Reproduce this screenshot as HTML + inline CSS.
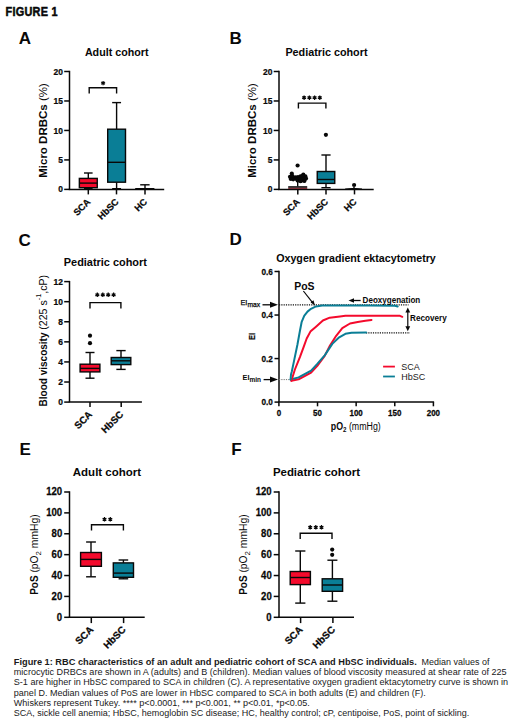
<!DOCTYPE html>
<html><head><meta charset="utf-8"><style>
html,body{margin:0;padding:0;background:#fff;}
svg{display:block;font-family:"Liberation Sans",sans-serif;}
.t{stroke:#080808;stroke-width:0.25px;}
</style></head><body>
<svg width="520" height="724" viewBox="0 0 520 724">
<rect width="520" height="724" fill="#fff"/>
<g class="g">
<text x="0" y="0" font-size="12.3" font-weight="bold" fill="#080808" stroke="#080808" stroke-width="0.5" letter-spacing="0.3" transform="translate(5.5 15.8) scale(0.885 1)">FIGURE 1</text>
<text x="18.8" y="44.0" font-size="17.0" font-weight="bold" text-anchor="start" fill="#080808" >A</text>
<text x="229.4" y="44.2" font-size="17.0" font-weight="bold" text-anchor="start" fill="#080808" >B</text>
<text x="18.6" y="246.2" font-size="17.0" font-weight="bold" text-anchor="start" fill="#080808" >C</text>
<text x="229.4" y="245.3" font-size="17.0" font-weight="bold" text-anchor="start" fill="#080808" >D</text>
<text x="19.6" y="455.0" font-size="17.0" font-weight="bold" text-anchor="start" fill="#080808" >E</text>
<text x="231.2" y="455.0" font-size="17.0" font-weight="bold" text-anchor="start" fill="#080808" >F</text>
<line x1="69.5" y1="70.8" x2="69.5" y2="189.4" stroke="#080808" stroke-width="1.5" />
<line x1="64.2" y1="71.5" x2="69.5" y2="71.5" stroke="#080808" stroke-width="1.5" />
<text class="t" x="0" y="0" font-size="9.6" font-weight="bold" text-anchor="end" fill="#080808" transform="translate(63.00 74.57) scale(0.88 1)">20</text>
<line x1="64.2" y1="100.975" x2="69.5" y2="100.975" stroke="#080808" stroke-width="1.5" />
<text class="t" x="0" y="0" font-size="9.6" font-weight="bold" text-anchor="end" fill="#080808" transform="translate(63.00 104.05) scale(0.88 1)">15</text>
<line x1="64.2" y1="130.45" x2="69.5" y2="130.45" stroke="#080808" stroke-width="1.5" />
<text class="t" x="0" y="0" font-size="9.6" font-weight="bold" text-anchor="end" fill="#080808" transform="translate(63.00 133.52) scale(0.88 1)">10</text>
<line x1="64.2" y1="159.925" x2="69.5" y2="159.925" stroke="#080808" stroke-width="1.5" />
<text class="t" x="0" y="0" font-size="9.6" font-weight="bold" text-anchor="end" fill="#080808" transform="translate(63.00 163.00) scale(0.88 1)">5</text>
<line x1="64.2" y1="189.4" x2="69.5" y2="189.4" stroke="#080808" stroke-width="1.5" />
<text class="t" x="0" y="0" font-size="9.6" font-weight="bold" text-anchor="end" fill="#080808" transform="translate(63.00 192.47) scale(0.88 1)">0</text>
<line x1="68.8" y1="189.4" x2="164.2" y2="189.4" stroke="#080808" stroke-width="1.5" />
<line x1="88.3" y1="189.4" x2="88.3" y2="194.4" stroke="#080808" stroke-width="1.5" />
<text class="t" x="91.1" y="202.4" font-size="9.3" font-weight="bold" text-anchor="end" fill="#080808" transform="rotate(-45 91.1 202.4)">SCA</text>
<line x1="116.5" y1="189.4" x2="116.5" y2="194.4" stroke="#080808" stroke-width="1.5" />
<text class="t" x="119.3" y="202.4" font-size="9.3" font-weight="bold" text-anchor="end" fill="#080808" transform="rotate(-45 119.3 202.4)">HbSC</text>
<line x1="145.0" y1="189.4" x2="145.0" y2="194.4" stroke="#080808" stroke-width="1.5" />
<text class="t" x="147.8" y="202.4" font-size="9.3" font-weight="bold" text-anchor="end" fill="#080808" transform="rotate(-45 147.8 202.4)">HC</text>
<text x="84.9" y="56.3" font-size="10.7" font-weight="bold" text-anchor="start" fill="#080808" textLength="63.6" lengthAdjust="spacingAndGlyphs" >Adult cohort</text>
<text x="46.6" y="130.5" font-size="11.5" font-weight="bold" text-anchor="middle" fill="#080808" transform="rotate(-90 46.6 130.5)" textLength="94.6" lengthAdjust="spacingAndGlyphs">Micro DRBCs <tspan font-weight="normal">(%)</tspan></text>
<line x1="88.3" y1="173.0" x2="88.3" y2="178.4" stroke="#080808" stroke-width="1.4" />
<line x1="88.3" y1="187.7" x2="88.3" y2="188.6" stroke="#080808" stroke-width="1.4" />
<line x1="84.0" y1="173.0" x2="92.6" y2="173.0" stroke="#080808" stroke-width="1.4" />
<line x1="84.0" y1="188.6" x2="92.6" y2="188.6" stroke="#080808" stroke-width="1.4" />
<rect x="79.35" y="178.4" width="17.9" height="9.299999999999983" fill="#f40a2c" stroke="#080808" stroke-width="1.4"/>
<line x1="79.35" y1="183.1" x2="97.25" y2="183.1" stroke="#080808" stroke-width="1.4" />
<line x1="116.6" y1="102.6" x2="116.6" y2="129.2" stroke="#080808" stroke-width="1.4" />
<line x1="116.6" y1="182.2" x2="116.6" y2="188.7" stroke="#080808" stroke-width="1.4" />
<line x1="112.14999999999999" y1="102.6" x2="121.05" y2="102.6" stroke="#080808" stroke-width="1.4" />
<line x1="112.14999999999999" y1="188.7" x2="121.05" y2="188.7" stroke="#080808" stroke-width="1.4" />
<rect x="107.69999999999999" y="129.2" width="17.8" height="53.0" fill="#0a7e96" stroke="#080808" stroke-width="1.4"/>
<line x1="107.69999999999999" y1="162.3" x2="125.5" y2="162.3" stroke="#080808" stroke-width="1.4" />
<line x1="145.0" y1="184.8" x2="145.0" y2="189.0" stroke="#080808" stroke-width="1.4" />
<line x1="140.2" y1="184.8" x2="149.6" y2="184.8" stroke="#080808" stroke-width="1.4" />
<rect x="135.2" y="188.0" width="19.2" height="1.4" fill="#080808"/>
<polyline points="89.2,93.5 89.2,87.7 116.6,87.7 116.6,93.5" fill="none" stroke="#080808" stroke-width="1.4"/>
<path d="M103.10,80.90L103.10,85.30M101.19,82.00L105.01,84.20M105.01,82.00L101.19,84.20" stroke="#080808" stroke-width="1.25" fill="none"/>
<circle cx="103.1" cy="83.1" r="1.0" fill="#080808"/>
<line x1="279.0" y1="70.8" x2="279.0" y2="189.4" stroke="#080808" stroke-width="1.5" />
<line x1="273.7" y1="71.5" x2="279.0" y2="71.5" stroke="#080808" stroke-width="1.5" />
<text class="t" x="0" y="0" font-size="9.6" font-weight="bold" text-anchor="end" fill="#080808" transform="translate(272.50 74.57) scale(0.88 1)">20</text>
<line x1="273.7" y1="100.975" x2="279.0" y2="100.975" stroke="#080808" stroke-width="1.5" />
<text class="t" x="0" y="0" font-size="9.6" font-weight="bold" text-anchor="end" fill="#080808" transform="translate(272.50 104.05) scale(0.88 1)">15</text>
<line x1="273.7" y1="130.45" x2="279.0" y2="130.45" stroke="#080808" stroke-width="1.5" />
<text class="t" x="0" y="0" font-size="9.6" font-weight="bold" text-anchor="end" fill="#080808" transform="translate(272.50 133.52) scale(0.88 1)">10</text>
<line x1="273.7" y1="159.925" x2="279.0" y2="159.925" stroke="#080808" stroke-width="1.5" />
<text class="t" x="0" y="0" font-size="9.6" font-weight="bold" text-anchor="end" fill="#080808" transform="translate(272.50 163.00) scale(0.88 1)">5</text>
<line x1="273.7" y1="189.4" x2="279.0" y2="189.4" stroke="#080808" stroke-width="1.5" />
<text class="t" x="0" y="0" font-size="9.6" font-weight="bold" text-anchor="end" fill="#080808" transform="translate(272.50 192.47) scale(0.88 1)">0</text>
<line x1="278.3" y1="189.4" x2="373.7" y2="189.4" stroke="#080808" stroke-width="1.5" />
<line x1="297.8" y1="189.4" x2="297.8" y2="194.4" stroke="#080808" stroke-width="1.5" />
<text class="t" x="300.6" y="202.4" font-size="9.3" font-weight="bold" text-anchor="end" fill="#080808" transform="rotate(-45 300.6 202.4)">SCA</text>
<line x1="326.0" y1="189.4" x2="326.0" y2="194.4" stroke="#080808" stroke-width="1.5" />
<text class="t" x="328.8" y="202.4" font-size="9.3" font-weight="bold" text-anchor="end" fill="#080808" transform="rotate(-45 328.8 202.4)">HbSC</text>
<line x1="354.5" y1="189.4" x2="354.5" y2="194.4" stroke="#080808" stroke-width="1.5" />
<text class="t" x="357.3" y="202.4" font-size="9.3" font-weight="bold" text-anchor="end" fill="#080808" transform="rotate(-45 357.3 202.4)">HC</text>
<text x="285.4" y="56.3" font-size="10.7" font-weight="bold" text-anchor="start" fill="#080808" textLength="82.1" lengthAdjust="spacingAndGlyphs" >Pediatric cohort</text>
<text x="256.1" y="130.5" font-size="11.5" font-weight="bold" text-anchor="middle" fill="#080808" transform="rotate(-90 256.1 130.5)" textLength="94.6" lengthAdjust="spacingAndGlyphs">Micro DRBCs <tspan font-weight="normal">(%)</tspan></text>
<line x1="297.7" y1="182.0" x2="297.7" y2="186.5" stroke="#080808" stroke-width="1.4" />
<rect x="288.2" y="186.2" width="19.0" height="1.6" fill="#080808"/>
<rect x="288.2" y="187.8" width="19.0" height="1.2" fill="#7a2a34"/>
<circle cx="297.6" cy="165.5" r="2.1" fill="#080808"/>
<circle cx="291.8" cy="173.5" r="2.1" fill="#080808"/>
<circle cx="290.0" cy="176.8" r="2.1" fill="#080808"/>
<circle cx="290.8" cy="179.0" r="2.1" fill="#080808"/>
<circle cx="293.0" cy="177.6" r="2.1" fill="#080808"/>
<circle cx="295.5" cy="177.4" r="2.1" fill="#080808"/>
<circle cx="298.0" cy="177.0" r="2.1" fill="#080808"/>
<circle cx="300.5" cy="176.4" r="2.1" fill="#080808"/>
<circle cx="303.3" cy="174.6" r="2.1" fill="#080808"/>
<circle cx="305.4" cy="176.4" r="2.1" fill="#080808"/>
<circle cx="306.0" cy="178.6" r="2.1" fill="#080808"/>
<circle cx="304.0" cy="180.4" r="2.1" fill="#080808"/>
<circle cx="301.5" cy="180.6" r="2.1" fill="#080808"/>
<circle cx="299.0" cy="180.2" r="2.1" fill="#080808"/>
<circle cx="297.6" cy="180.6" r="2.1" fill="#080808"/>
<circle cx="302.5" cy="178.2" r="2.1" fill="#080808"/>
<circle cx="299.5" cy="178.2" r="2.1" fill="#080808"/>
<circle cx="296.5" cy="179.0" r="2.1" fill="#080808"/>
<circle cx="293.2" cy="179.3" r="2.1" fill="#080808"/>
<circle cx="300.5" cy="181.2" r="2.1" fill="#080808"/>
<circle cx="304.4" cy="181.0" r="2.1" fill="#080808"/>
<circle cx="302.4" cy="176.0" r="2.1" fill="#080808"/>
<circle cx="292.4" cy="176.0" r="2.1" fill="#080808"/>
<line x1="326.0" y1="155.0" x2="326.0" y2="171.5" stroke="#080808" stroke-width="1.4" />
<line x1="326.0" y1="183.4" x2="326.0" y2="187.7" stroke="#080808" stroke-width="1.4" />
<line x1="321.4" y1="155.0" x2="330.6" y2="155.0" stroke="#080808" stroke-width="1.4" />
<line x1="321.4" y1="187.7" x2="330.6" y2="187.7" stroke="#080808" stroke-width="1.4" />
<rect x="317.25" y="171.5" width="17.5" height="11.900000000000006" fill="#0a7e96" stroke="#080808" stroke-width="1.4"/>
<line x1="317.25" y1="179.5" x2="334.75" y2="179.5" stroke="#080808" stroke-width="1.4" />
<circle cx="325.9" cy="134.8" r="2.1" fill="#080808"/>
<circle cx="354.1" cy="185.0" r="2.1" fill="#080808"/>
<line x1="354.0" y1="187.0" x2="354.0" y2="189.0" stroke="#080808" stroke-width="1.4" />
<path d="M345.2 189.2 Q354 187.6 362 189.2 Z" fill="#080808" stroke="#080808" stroke-width="1"/>
<polyline points="298.4,108.6 298.4,103.1 325.9,103.1 325.9,108.6" fill="none" stroke="#080808" stroke-width="1.4"/>
<path d="M304.10,95.50L304.10,99.90M302.19,96.60L306.01,98.80M306.01,96.60L302.19,98.80" stroke="#080808" stroke-width="1.25" fill="none"/>
<circle cx="304.1" cy="97.7" r="1.0" fill="#080808"/>
<path d="M309.40,95.50L309.40,99.90M307.49,96.60L311.31,98.80M311.31,96.60L307.49,98.80" stroke="#080808" stroke-width="1.25" fill="none"/>
<circle cx="309.4" cy="97.7" r="1.0" fill="#080808"/>
<path d="M314.60,95.50L314.60,99.90M312.69,96.60L316.51,98.80M316.51,96.60L312.69,98.80" stroke="#080808" stroke-width="1.25" fill="none"/>
<circle cx="314.6" cy="97.7" r="1.0" fill="#080808"/>
<path d="M319.80,95.50L319.80,99.90M317.89,96.60L321.71,98.80M321.71,96.60L317.89,98.80" stroke="#080808" stroke-width="1.25" fill="none"/>
<circle cx="319.8" cy="97.7" r="1.0" fill="#080808"/>
<line x1="69.5" y1="280.90000000000003" x2="69.5" y2="402.1" stroke="#080808" stroke-width="1.5" />
<line x1="64.2" y1="281.6" x2="69.5" y2="281.6" stroke="#080808" stroke-width="1.5" />
<text class="t" x="0" y="0" font-size="9.6" font-weight="bold" text-anchor="end" fill="#080808" transform="translate(63.00 284.67) scale(0.88 1)">12</text>
<line x1="64.2" y1="301.6833333333334" x2="69.5" y2="301.6833333333334" stroke="#080808" stroke-width="1.5" />
<text class="t" x="0" y="0" font-size="9.6" font-weight="bold" text-anchor="end" fill="#080808" transform="translate(63.00 304.76) scale(0.88 1)">10</text>
<line x1="64.2" y1="321.7666666666667" x2="69.5" y2="321.7666666666667" stroke="#080808" stroke-width="1.5" />
<text class="t" x="0" y="0" font-size="9.6" font-weight="bold" text-anchor="end" fill="#080808" transform="translate(63.00 324.84) scale(0.88 1)">8</text>
<line x1="64.2" y1="341.85" x2="69.5" y2="341.85" stroke="#080808" stroke-width="1.5" />
<text class="t" x="0" y="0" font-size="9.6" font-weight="bold" text-anchor="end" fill="#080808" transform="translate(63.00 344.92) scale(0.88 1)">6</text>
<line x1="64.2" y1="361.93333333333334" x2="69.5" y2="361.93333333333334" stroke="#080808" stroke-width="1.5" />
<text class="t" x="0" y="0" font-size="9.6" font-weight="bold" text-anchor="end" fill="#080808" transform="translate(63.00 365.01) scale(0.88 1)">4</text>
<line x1="64.2" y1="382.0166666666667" x2="69.5" y2="382.0166666666667" stroke="#080808" stroke-width="1.5" />
<text class="t" x="0" y="0" font-size="9.6" font-weight="bold" text-anchor="end" fill="#080808" transform="translate(63.00 385.09) scale(0.88 1)">2</text>
<line x1="64.2" y1="402.1" x2="69.5" y2="402.1" stroke="#080808" stroke-width="1.5" />
<text class="t" x="0" y="0" font-size="9.6" font-weight="bold" text-anchor="end" fill="#080808" transform="translate(63.00 405.17) scale(0.88 1)">0</text>
<line x1="68.8" y1="402.1" x2="141.9" y2="402.1" stroke="#080808" stroke-width="1.5" />
<line x1="90.0" y1="402.1" x2="90.0" y2="407.1" stroke="#080808" stroke-width="1.5" />
<text class="t" x="92.8" y="415.1" font-size="9.7" font-weight="bold" text-anchor="end" fill="#080808" transform="rotate(-45 92.8 415.1)">SCA</text>
<line x1="121.2" y1="402.1" x2="121.2" y2="407.1" stroke="#080808" stroke-width="1.5" />
<text class="t" x="124.0" y="415.1" font-size="9.7" font-weight="bold" text-anchor="end" fill="#080808" transform="rotate(-45 124.0 415.1)">HbSC</text>
<text x="63.8" y="265.9" font-size="10.7" font-weight="bold" text-anchor="start" fill="#080808" textLength="83.1" lengthAdjust="spacingAndGlyphs" >Pediatric cohort</text>
<text x="0" y="0" font-size="10" font-weight="bold" fill="#080808" transform="translate(47.0 406.4) rotate(-90)">Blood viscosity <tspan font-weight="normal" font-size="10.6">(225 s</tspan><tspan font-weight="normal" font-size="7.4" dy="-5.6">-1</tspan><tspan font-weight="normal" font-size="10.6" dy="5.6">,cP)</tspan></text>
<line x1="90.0" y1="352.5" x2="90.0" y2="364.2" stroke="#080808" stroke-width="1.4" />
<line x1="90.0" y1="371.9" x2="90.0" y2="378.2" stroke="#080808" stroke-width="1.4" />
<line x1="85.5" y1="352.5" x2="94.5" y2="352.5" stroke="#080808" stroke-width="1.4" />
<line x1="85.5" y1="378.2" x2="94.5" y2="378.2" stroke="#080808" stroke-width="1.4" />
<rect x="80.1" y="364.2" width="19.8" height="7.699999999999989" fill="#f40a2c" stroke="#080808" stroke-width="1.4"/>
<line x1="80.1" y1="368.4" x2="99.9" y2="368.4" stroke="#080808" stroke-width="1.4" />
<circle cx="90.0" cy="335.7" r="2.1" fill="#080808"/>
<circle cx="90.0" cy="343.2" r="2.1" fill="#080808"/>
<line x1="121.0" y1="350.6" x2="121.0" y2="357.5" stroke="#080808" stroke-width="1.4" />
<line x1="121.0" y1="364.6" x2="121.0" y2="369.4" stroke="#080808" stroke-width="1.4" />
<line x1="116.35" y1="350.6" x2="125.65" y2="350.6" stroke="#080808" stroke-width="1.4" />
<line x1="116.35" y1="369.4" x2="125.65" y2="369.4" stroke="#080808" stroke-width="1.4" />
<rect x="111.2" y="357.5" width="19.6" height="7.100000000000023" fill="#0a7e96" stroke="#080808" stroke-width="1.4"/>
<line x1="111.2" y1="360.8" x2="130.8" y2="360.8" stroke="#080808" stroke-width="1.4" />
<polyline points="90.0,308.4 90.0,302.6 120.9,302.6 120.9,308.4" fill="none" stroke="#080808" stroke-width="1.4"/>
<path d="M97.30,292.60L97.30,297.00M95.39,293.70L99.21,295.90M99.21,293.70L95.39,295.90" stroke="#080808" stroke-width="1.25" fill="none"/>
<circle cx="97.3" cy="294.8" r="1.0" fill="#080808"/>
<path d="M102.80,292.60L102.80,297.00M100.89,293.70L104.71,295.90M104.71,293.70L100.89,295.90" stroke="#080808" stroke-width="1.25" fill="none"/>
<circle cx="102.8" cy="294.8" r="1.0" fill="#080808"/>
<path d="M108.20,292.60L108.20,297.00M106.29,293.70L110.11,295.90M110.11,293.70L106.29,295.90" stroke="#080808" stroke-width="1.25" fill="none"/>
<circle cx="108.2" cy="294.8" r="1.0" fill="#080808"/>
<path d="M113.60,292.60L113.60,297.00M111.69,293.70L115.51,295.90M115.51,293.70L111.69,295.90" stroke="#080808" stroke-width="1.25" fill="none"/>
<circle cx="113.6" cy="294.8" r="1.0" fill="#080808"/>
<line x1="69.5" y1="491.3" x2="69.5" y2="617.3" stroke="#080808" stroke-width="1.5" />
<line x1="64.2" y1="492.0" x2="69.5" y2="492.0" stroke="#080808" stroke-width="1.5" />
<text class="t" x="0" y="0" font-size="10.4" font-weight="bold" text-anchor="end" fill="#080808" transform="translate(62.20 495.33) scale(0.92 1)">120</text>
<line x1="64.2" y1="512.8833333333333" x2="69.5" y2="512.8833333333333" stroke="#080808" stroke-width="1.5" />
<text class="t" x="0" y="0" font-size="10.4" font-weight="bold" text-anchor="end" fill="#080808" transform="translate(62.20 516.21) scale(0.92 1)">100</text>
<line x1="64.2" y1="533.7666666666667" x2="69.5" y2="533.7666666666667" stroke="#080808" stroke-width="1.5" />
<text class="t" x="0" y="0" font-size="10.4" font-weight="bold" text-anchor="end" fill="#080808" transform="translate(62.20 537.09) scale(0.92 1)">80</text>
<line x1="64.2" y1="554.65" x2="69.5" y2="554.65" stroke="#080808" stroke-width="1.5" />
<text class="t" x="0" y="0" font-size="10.4" font-weight="bold" text-anchor="end" fill="#080808" transform="translate(62.20 557.98) scale(0.92 1)">60</text>
<line x1="64.2" y1="575.5333333333333" x2="69.5" y2="575.5333333333333" stroke="#080808" stroke-width="1.5" />
<text class="t" x="0" y="0" font-size="10.4" font-weight="bold" text-anchor="end" fill="#080808" transform="translate(62.20 578.86) scale(0.92 1)">40</text>
<line x1="64.2" y1="596.4166666666666" x2="69.5" y2="596.4166666666666" stroke="#080808" stroke-width="1.5" />
<text class="t" x="0" y="0" font-size="10.4" font-weight="bold" text-anchor="end" fill="#080808" transform="translate(62.20 599.74) scale(0.92 1)">20</text>
<line x1="64.2" y1="617.3" x2="69.5" y2="617.3" stroke="#080808" stroke-width="1.5" />
<text class="t" x="0" y="0" font-size="10.4" font-weight="bold" text-anchor="end" fill="#080808" transform="translate(62.20 620.63) scale(0.92 1)">0</text>
<line x1="68.8" y1="617.3" x2="144.7" y2="617.3" stroke="#080808" stroke-width="1.5" />
<line x1="91.3" y1="617.3" x2="91.3" y2="623.0999999999999" stroke="#080808" stroke-width="1.5" />
<text class="t" x="94.1" y="630.3" font-size="9.9" font-weight="bold" text-anchor="end" fill="#080808" transform="rotate(-45 94.1 630.3)">SCA</text>
<line x1="123.6" y1="617.3" x2="123.6" y2="623.0999999999999" stroke="#080808" stroke-width="1.5" />
<text class="t" x="126.39999999999999" y="630.3" font-size="9.9" font-weight="bold" text-anchor="end" fill="#080808" transform="rotate(-45 126.39999999999999 630.3)">HbSC</text>
<text x="72.8" y="475.6" font-size="11.5" font-weight="bold" text-anchor="start" fill="#080808" textLength="68.3" lengthAdjust="spacingAndGlyphs" >Adult cohort</text>
<text x="0" y="0" font-size="10" font-weight="bold" fill="#080808" transform="translate(38.0 594.8) rotate(-90)">PoS <tspan font-weight="normal" font-size="10.3">(pO</tspan><tspan font-weight="normal" font-size="7.8" dy="2.6">2</tspan><tspan font-weight="normal" font-size="10.3" dy="-2.6"> mmHg)</tspan></text>
<line x1="91.0" y1="542.0" x2="91.0" y2="552.5" stroke="#080808" stroke-width="1.4" />
<line x1="91.0" y1="566.3" x2="91.0" y2="576.8" stroke="#080808" stroke-width="1.4" />
<line x1="86.1" y1="542.0" x2="95.9" y2="542.0" stroke="#080808" stroke-width="1.4" />
<line x1="86.1" y1="576.8" x2="95.9" y2="576.8" stroke="#080808" stroke-width="1.4" />
<rect x="80.6" y="552.5" width="20.8" height="13.799999999999955" fill="#f40a2c" stroke="#080808" stroke-width="1.4"/>
<line x1="80.6" y1="559.4" x2="101.4" y2="559.4" stroke="#080808" stroke-width="1.4" />
<line x1="123.4" y1="560.0" x2="123.4" y2="562.9" stroke="#080808" stroke-width="1.4" />
<line x1="123.4" y1="577.3" x2="123.4" y2="578.8" stroke="#080808" stroke-width="1.4" />
<line x1="118.60000000000001" y1="560.0" x2="128.20000000000002" y2="560.0" stroke="#080808" stroke-width="1.4" />
<line x1="118.60000000000001" y1="578.8" x2="128.20000000000002" y2="578.8" stroke="#080808" stroke-width="1.4" />
<rect x="113.30000000000001" y="562.9" width="20.2" height="14.399999999999977" fill="#0a7e96" stroke="#080808" stroke-width="1.4"/>
<line x1="113.30000000000001" y1="573.1" x2="133.5" y2="573.1" stroke="#080808" stroke-width="1.4" />
<polyline points="91.5,530.5 91.5,524.7 123.4,524.7 123.4,530.5" fill="none" stroke="#080808" stroke-width="1.4"/>
<path d="M104.50,517.10L104.50,521.50M102.59,518.20L106.41,520.40M106.41,518.20L102.59,520.40" stroke="#080808" stroke-width="1.25" fill="none"/>
<circle cx="104.5" cy="519.3" r="1.0" fill="#080808"/>
<path d="M110.30,517.10L110.30,521.50M108.39,518.20L112.21,520.40M112.21,518.20L108.39,520.40" stroke="#080808" stroke-width="1.25" fill="none"/>
<circle cx="110.3" cy="519.3" r="1.0" fill="#080808"/>
<line x1="279.0" y1="491.3" x2="279.0" y2="617.3" stroke="#080808" stroke-width="1.5" />
<line x1="273.7" y1="492.0" x2="279.0" y2="492.0" stroke="#080808" stroke-width="1.5" />
<text class="t" x="0" y="0" font-size="10.4" font-weight="bold" text-anchor="end" fill="#080808" transform="translate(271.70 495.33) scale(0.92 1)">120</text>
<line x1="273.7" y1="512.8833333333333" x2="279.0" y2="512.8833333333333" stroke="#080808" stroke-width="1.5" />
<text class="t" x="0" y="0" font-size="10.4" font-weight="bold" text-anchor="end" fill="#080808" transform="translate(271.70 516.21) scale(0.92 1)">100</text>
<line x1="273.7" y1="533.7666666666667" x2="279.0" y2="533.7666666666667" stroke="#080808" stroke-width="1.5" />
<text class="t" x="0" y="0" font-size="10.4" font-weight="bold" text-anchor="end" fill="#080808" transform="translate(271.70 537.09) scale(0.92 1)">80</text>
<line x1="273.7" y1="554.65" x2="279.0" y2="554.65" stroke="#080808" stroke-width="1.5" />
<text class="t" x="0" y="0" font-size="10.4" font-weight="bold" text-anchor="end" fill="#080808" transform="translate(271.70 557.98) scale(0.92 1)">60</text>
<line x1="273.7" y1="575.5333333333333" x2="279.0" y2="575.5333333333333" stroke="#080808" stroke-width="1.5" />
<text class="t" x="0" y="0" font-size="10.4" font-weight="bold" text-anchor="end" fill="#080808" transform="translate(271.70 578.86) scale(0.92 1)">40</text>
<line x1="273.7" y1="596.4166666666666" x2="279.0" y2="596.4166666666666" stroke="#080808" stroke-width="1.5" />
<text class="t" x="0" y="0" font-size="10.4" font-weight="bold" text-anchor="end" fill="#080808" transform="translate(271.70 599.74) scale(0.92 1)">20</text>
<line x1="273.7" y1="617.3" x2="279.0" y2="617.3" stroke="#080808" stroke-width="1.5" />
<text class="t" x="0" y="0" font-size="10.4" font-weight="bold" text-anchor="end" fill="#080808" transform="translate(271.70 620.63) scale(0.92 1)">0</text>
<line x1="278.3" y1="617.3" x2="354.0" y2="617.3" stroke="#080808" stroke-width="1.5" />
<line x1="300.6" y1="617.3" x2="300.6" y2="623.0999999999999" stroke="#080808" stroke-width="1.5" />
<text class="t" x="303.40000000000003" y="630.3" font-size="9.9" font-weight="bold" text-anchor="end" fill="#080808" transform="rotate(-45 303.40000000000003 630.3)">SCA</text>
<line x1="332.9" y1="617.3" x2="332.9" y2="623.0999999999999" stroke="#080808" stroke-width="1.5" />
<text class="t" x="335.7" y="630.3" font-size="9.9" font-weight="bold" text-anchor="end" fill="#080808" transform="rotate(-45 335.7 630.3)">HbSC</text>
<text x="272.9" y="475.6" font-size="11.5" font-weight="bold" text-anchor="start" fill="#080808" textLength="87.1" lengthAdjust="spacingAndGlyphs" >Pediatric cohort</text>
<text x="0" y="0" font-size="10" font-weight="bold" fill="#080808" transform="translate(247.3 594.8) rotate(-90)">PoS <tspan font-weight="normal" font-size="10.3">(pO</tspan><tspan font-weight="normal" font-size="7.8" dy="2.6">2</tspan><tspan font-weight="normal" font-size="10.3" dy="-2.6"> mmHg)</tspan></text>
<line x1="300.3" y1="551.0" x2="300.3" y2="571.5" stroke="#080808" stroke-width="1.4" />
<line x1="300.3" y1="584.6" x2="300.3" y2="603.1" stroke="#080808" stroke-width="1.4" />
<line x1="295.2" y1="551.0" x2="305.40000000000003" y2="551.0" stroke="#080808" stroke-width="1.4" />
<line x1="295.2" y1="603.1" x2="305.40000000000003" y2="603.1" stroke="#080808" stroke-width="1.4" />
<rect x="290.2" y="571.5" width="20.2" height="13.100000000000023" fill="#f40a2c" stroke="#080808" stroke-width="1.4"/>
<line x1="290.2" y1="577.5" x2="310.40000000000003" y2="577.5" stroke="#080808" stroke-width="1.4" />
<line x1="332.4" y1="560.2" x2="332.4" y2="578.8" stroke="#080808" stroke-width="1.4" />
<line x1="332.4" y1="591.3" x2="332.4" y2="601.2" stroke="#080808" stroke-width="1.4" />
<line x1="327.4" y1="560.2" x2="337.4" y2="560.2" stroke="#080808" stroke-width="1.4" />
<line x1="327.4" y1="601.2" x2="337.4" y2="601.2" stroke="#080808" stroke-width="1.4" />
<rect x="322.2" y="578.8" width="20.4" height="12.5" fill="#0a7e96" stroke="#080808" stroke-width="1.4"/>
<line x1="322.2" y1="585.0" x2="342.59999999999997" y2="585.0" stroke="#080808" stroke-width="1.4" />
<circle cx="332.2" cy="549.6" r="2.1" fill="#080808"/>
<circle cx="332.2" cy="554.8" r="2.1" fill="#080808"/>
<polyline points="300.2,539.1 300.2,533.2 332.0,533.2 332.0,539.1" fill="none" stroke="#080808" stroke-width="1.4"/>
<path d="M310.20,525.10L310.20,529.50M308.29,526.20L312.11,528.40M312.11,526.20L308.29,528.40" stroke="#080808" stroke-width="1.25" fill="none"/>
<circle cx="310.2" cy="527.3" r="1.0" fill="#080808"/>
<path d="M315.80,525.10L315.80,529.50M313.89,526.20L317.71,528.40M317.71,526.20L313.89,528.40" stroke="#080808" stroke-width="1.25" fill="none"/>
<circle cx="315.8" cy="527.3" r="1.0" fill="#080808"/>
<path d="M321.50,525.10L321.50,529.50M319.59,526.20L323.41,528.40M323.41,526.20L319.59,528.40" stroke="#080808" stroke-width="1.25" fill="none"/>
<circle cx="321.5" cy="527.3" r="1.0" fill="#080808"/>
<line x1="279.0" y1="270.8" x2="279.0" y2="402.1" stroke="#080808" stroke-width="1.5" />
<line x1="274.5" y1="271.5" x2="279.0" y2="271.5" stroke="#080808" stroke-width="1.5" />
<text class="t" x="0" y="0" font-size="9.2" font-weight="bold" text-anchor="end" fill="#080808" transform="translate(272.90 274.70) scale(0.89 1)">0.6</text>
<line x1="274.5" y1="315.0333333333333" x2="279.0" y2="315.0333333333333" stroke="#080808" stroke-width="1.5" />
<text class="t" x="0" y="0" font-size="9.2" font-weight="bold" text-anchor="end" fill="#080808" transform="translate(272.90 318.23) scale(0.89 1)">0.4</text>
<line x1="274.5" y1="358.56666666666666" x2="279.0" y2="358.56666666666666" stroke="#080808" stroke-width="1.5" />
<text class="t" x="0" y="0" font-size="9.2" font-weight="bold" text-anchor="end" fill="#080808" transform="translate(272.90 361.77) scale(0.89 1)">0.2</text>
<line x1="274.5" y1="402.1" x2="279.0" y2="402.1" stroke="#080808" stroke-width="1.5" />
<text class="t" x="0" y="0" font-size="9.2" font-weight="bold" text-anchor="end" fill="#080808" transform="translate(272.90 405.30) scale(0.89 1)">0.0</text>
<line x1="278.3" y1="402.1" x2="434.09999999999997" y2="402.1" stroke="#080808" stroke-width="1.5" />
<line x1="278.9" y1="402.1" x2="278.9" y2="406.3" stroke="#080808" stroke-width="1.5" />
<text class="t" x="0" y="0" font-size="8.4" font-weight="bold" text-anchor="middle" fill="#080808" transform="translate(278.90 416.20) scale(0.95 1)">0</text>
<line x1="317.525" y1="402.1" x2="317.525" y2="406.3" stroke="#080808" stroke-width="1.5" />
<text class="t" x="0" y="0" font-size="8.4" font-weight="bold" text-anchor="middle" fill="#080808" transform="translate(317.52 416.20) scale(0.95 1)">50</text>
<line x1="356.15" y1="402.1" x2="356.15" y2="406.3" stroke="#080808" stroke-width="1.5" />
<text class="t" x="0" y="0" font-size="8.4" font-weight="bold" text-anchor="middle" fill="#080808" transform="translate(356.15 416.20) scale(0.95 1)">100</text>
<line x1="394.775" y1="402.1" x2="394.775" y2="406.3" stroke="#080808" stroke-width="1.5" />
<text class="t" x="0" y="0" font-size="8.4" font-weight="bold" text-anchor="middle" fill="#080808" transform="translate(394.77 416.20) scale(0.95 1)">150</text>
<line x1="433.4" y1="402.1" x2="433.4" y2="406.3" stroke="#080808" stroke-width="1.5" />
<text class="t" x="0" y="0" font-size="8.4" font-weight="bold" text-anchor="middle" fill="#080808" transform="translate(433.40 416.20) scale(0.95 1)">200</text>
<text x="276.2" y="262.0" font-size="10.7" font-weight="bold" text-anchor="start" fill="#080808" textLength="159.6" lengthAdjust="spacingAndGlyphs" >Oxygen gradient ektacytometry</text>
<text class="t" x="0" y="0" font-size="8.6" font-weight="bold" fill="#080808" text-anchor="middle" transform="translate(254.9 336.5) rotate(-90) scale(0.85 1)">EI</text>
<text x="330.8" y="429.8" font-size="10" font-weight="bold" fill="#080808" textLength="50" lengthAdjust="spacingAndGlyphs">pO<tspan font-size="7" dy="2">2</tspan><tspan font-weight="normal" dy="-2"> (mmHg)</tspan></text>
<line x1="279.0" y1="304.9" x2="408.5" y2="304.9" stroke="#111" stroke-width="1.3" stroke-dasharray="1.2 1.1"/>
<line x1="279.0" y1="379.6" x2="291.0" y2="379.6" stroke="#777" stroke-width="1.0" stroke-dasharray="1.2 1.1"/>
<line x1="366.0" y1="332.8" x2="410.0" y2="332.8" stroke="#111" stroke-width="1.3" stroke-dasharray="1.2 1.1"/>
<polyline points="291.4,380.7 298.6,379.3 311.1,372.6 317.3,365.8 324.7,355.9 330.0,345.5 336.2,335.8 342.3,328.1 350.0,323.5 357.7,321.9 365.4,320.8 371.5,319.9" fill="none" stroke="#f40a2c" stroke-width="2.0" stroke-linejoin="round" stroke-linecap="round"/>
<polyline points="290.6,379.5 298.6,377.4 311.1,370.6 317.3,363.9 324.7,355.4 332.3,343.9 339.2,337.3 345.4,333.8 351.5,332.7 366.2,332.4" fill="none" stroke="#0a7e96" stroke-width="2.0" stroke-linejoin="round" stroke-linecap="round"/>
<polyline points="291.4,380.7 294.9,369.5 299.9,357.1 303.6,347.2 306.7,338.5 310.4,331.6 316.0,326.7 322.9,320.5 329.7,317.7 340.0,316.4 345.4,315.8 400.0,315.8 402.3,316.8" fill="none" stroke="#f40a2c" stroke-width="2.0" stroke-linejoin="round" stroke-linecap="round"/>
<polyline points="290.6,379.5 291.0,374.5 291.8,371.5 294.3,359.6 297.4,344.7 299.9,331.0 301.7,321.8 304.2,315.8 307.5,311.6 311.0,308.8 316.0,306.4 322.2,305.6 340.0,305.4 370.0,305.5 395.0,305.8 397.7,306.5" fill="none" stroke="#0a7e96" stroke-width="2.0" stroke-linejoin="round" stroke-linecap="round"/>
<text class="t" x="240.4" y="304.5" font-size="7.4" fill="#080808">EI<tspan font-size="6.7" dy="2.3">max</tspan></text>
<text x="242.6" y="379.5" font-size="7.3" font-weight="bold" fill="#080808">EI<tspan font-size="6.5" dy="2.1">min</tspan></text>
<line x1="262.5" y1="304.8" x2="270.5" y2="304.8" stroke="#080808" stroke-width="1.3" />
<path d="M270.0,301.8 L278.0,304.8 L270.0,307.8 Z" fill="#080808"/>
<line x1="263.6" y1="379.6" x2="270.5" y2="379.6" stroke="#080808" stroke-width="1.3" />
<path d="M270.0,376.6 L278.0,379.6 L270.0,382.6 Z" fill="#080808"/>
<text x="294.2" y="289.7" font-size="10.0" font-weight="bold" text-anchor="start" fill="#080808" textLength="20.3" lengthAdjust="spacingAndGlyphs" >PoS</text>
<line x1="303.4" y1="291.0" x2="312.6" y2="302.6" stroke="#080808" stroke-width="1.2" />
<path d="M315.0,305.5 L310.6,302.6 L313.5,300.3 Z" fill="#080808"/>
<line x1="353.0" y1="300.5" x2="360.6" y2="300.5" stroke="#080808" stroke-width="1.3" />
<path d="M348.5,300.5 L354.0,298.3 L354.0,302.7 Z" fill="#080808"/>
<text x="362.6" y="302.8" font-size="8.4" font-weight="bold" text-anchor="start" fill="#080808" textLength="57.7" lengthAdjust="spacingAndGlyphs" >Deoxygenation</text>
<line x1="407.8" y1="311.0" x2="407.8" y2="328.0" stroke="#080808" stroke-width="1.2" />
<path d="M407.8,307.6 L405.4,312.6 L410.2,312.6 Z" fill="#080808"/>
<path d="M407.8,331.2 L405.4,326.2 L410.2,326.2 Z" fill="#080808"/>
<text x="410.1" y="321.4" font-size="8.6" font-weight="bold" text-anchor="start" fill="#080808" textLength="36.6" lengthAdjust="spacingAndGlyphs" >Recovery</text>
<line x1="383.1" y1="366.6" x2="394.9" y2="366.6" stroke="#f40a2c" stroke-width="1.8" />
<line x1="383.1" y1="376.5" x2="394.9" y2="376.5" stroke="#0a7e96" stroke-width="1.8" />
<text x="401.3" y="370.0" font-size="9.0" font-weight="normal" text-anchor="start" fill="#222" >SCA</text>
<text x="401.3" y="379.6" font-size="9.0" font-weight="normal" text-anchor="start" fill="#222" >HbSC</text>
</g>
<text x="13.8" y="665.30" font-size="9.05" font-weight="bold" fill="#1a1a1a" textLength="403.0" lengthAdjust="spacingAndGlyphs">Figure 1: RBC characteristics of an adult and pediatric cohort of SCA and HbSC individuals.</text>
<text x="421.6" y="665.30" font-size="9.05" fill="#1a1a1a" textLength="67.9" lengthAdjust="spacingAndGlyphs">Median values of</text>
<text x="13.8" y="675.38" font-size="9.05" fill="#1a1a1a" textLength="492.8" lengthAdjust="spacingAndGlyphs">microcytic DRBCs are shown in A (adults) and B (children). Median values of blood viscosity measured at shear rate of 225</text>
<text x="13.8" y="685.46" font-size="9.05" fill="#1a1a1a" textLength="494.2" lengthAdjust="spacingAndGlyphs">S-1 are higher in HbSC compared to SCA in children (C). A representative oxygen gradient ektacytometry curve is shown in</text>
<text x="13.8" y="695.54" font-size="9.05" fill="#1a1a1a" textLength="412.0" lengthAdjust="spacingAndGlyphs">panel D. Median values of PoS are lower in HbSC compared to SCA in both adults (E) and children (F).</text>
<text x="13.8" y="705.62" font-size="9.05" fill="#1a1a1a">Whiskers represent Tukey. **** p&lt;0.0001, *** p&lt;0.001, ** p&lt;0.01, *p&lt;0.05.</text>
<text x="13.8" y="715.70" font-size="9.05" fill="#1a1a1a" textLength="455.4" lengthAdjust="spacingAndGlyphs">SCA, sickle cell anemia; HbSC, hemoglobin SC disease; HC, healthy control; cP, centipoise, PoS, point of sickling.</text>
</svg>
</body></html>
